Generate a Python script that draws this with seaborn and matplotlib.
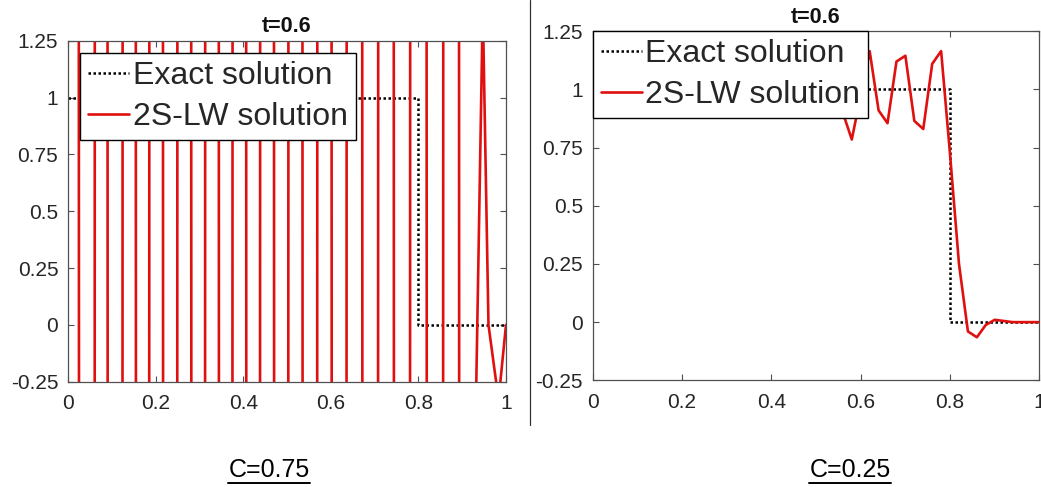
import numpy as np
import pandas as pd
import seaborn as sns
import matplotlib
matplotlib.use("Agg")
import matplotlib.pyplot as plt
from matplotlib.lines import Line2D

# ---------------- data ----------------
exact_x = [0.0, 0.8, 0.8, 1.0]
exact_u = [1.0, 1.0, 0.0, 0.0]

# C = 0.75 : unstable 2S-LW solution (huge alternating values, then the tail)
left_x = [0.0, 0.05, 0.072, 0.109, 0.140, 0.170, 0.201, 0.233, 0.266, 0.297,
          0.329, 0.360, 0.391, 0.423, 0.454, 0.487, 0.519, 0.552, 0.586, 0.618,
          0.654, 0.690, 0.726, 0.762, 0.800, 0.838, 0.875, 0.911, 0.930, 0.947,
          0.960, 0.983, 1.0]
left_u = [100.0, -100.0, 100.0, -100.0, 100.0, -100.0, 100.0, -100.0, 100.0, -100.0,
          100.0, -100.0, 100.0, -100.0, 100.0, -100.0, 100.0, -100.0, 100.0, -100.0,
          100.0, -100.0, 100.0, -100.0, 100.0, -100.0, 100.0, -100.0, -0.5, 1.4,
          0.0, -0.33, 0.0]

# C = 0.25 : 2S-LW solution
right_x = [0.00, 0.02, 0.04, 0.06, 0.08, 0.10, 0.12, 0.14, 0.16, 0.18,
           0.20, 0.22, 0.24, 0.26, 0.28, 0.30, 0.32, 0.34, 0.36, 0.38,
           0.40, 0.42, 0.44, 0.46, 0.48, 0.50, 0.52, 0.54, 0.56, 0.58,
           0.60, 0.62, 0.64, 0.66, 0.68, 0.70, 0.72, 0.74, 0.76, 0.78,
           0.80, 0.82, 0.84, 0.86, 0.88, 0.90, 0.92, 0.94, 0.96, 0.98, 1.00]
right_u = [1.0, 1.0, 1.0, 1.0, 1.0, 1.0, 1.0, 1.0, 1.0, 1.0,
           1.0, 1.0, 1.0, 1.0, 1.0, 1.0, 1.0, 1.0, 1.0, 1.0,
           1.0, 1.0, 1.0, 1.0, 1.0, 1.0, 1.02, 1.28, 0.90, 0.785,
           0.975, 1.165, 0.91, 0.855, 1.12, 1.145, 0.865, 0.83, 1.11, 1.165,
           0.72, 0.25, -0.04, -0.065, -0.012, 0.01, 0.005, 0.0, 0.0, 0.0, 0.0]

titles = ["t=0.6", "t=0.6"]
captions = ["C=0.75", "C=0.25"]
legend_labels = ["Exact solution", "2S-LW solution"]
xticks = [0, 0.2, 0.4, 0.6, 0.8, 1]
xticklabels = ["0", "0.2", "0.4", "0.6", "0.8", "1"]
yticks = [-0.25, 0, 0.25, 0.5, 0.75, 1, 1.25]
yticklabels = ["-0.25", "0", "0.25", "0.5", "0.75", "1", "1.25"]

# ---------------- style ----------------
sns.set_theme(style="white")
plt.rcParams["font.family"] = ["Liberation Sans", "DejaVu Sans"]

W, H = 1041, 487
fig = plt.figure(figsize=(W / 100, H / 100), dpi=100)

axL = fig.add_axes([68 / W, 1 - 381.7 / H, (506 - 68) / W, (381.7 - 40.7) / H])
axR = fig.add_axes([592.7 / W, 1 - 380.3 / H, (1039.4 - 592.7) / W, (380.3 - 31.3) / H])

edge = "#505050"
red = "#e01010"

panels = [
    (axL, left_x, left_u, (0.027, 0.963), titles[0]),
    (axR, right_x, right_u, (0.0, 1.0), titles[1]),
]

for ax, xs, us, anchor, ttl in panels:
    ex = pd.DataFrame({"x": exact_x, "u": exact_u})
    nm = pd.DataFrame({"x": xs, "u": us})
    sns.lineplot(data=ex, x="x", y="u", ax=ax, sort=False, estimator=None,
                 color="black", linestyle=(0, (1, 1)), linewidth=1.8,
                 label=legend_labels[0])
    sns.lineplot(data=nm, x="x", y="u", ax=ax, sort=False, estimator=None,
                 color=red, linewidth=1.9, label=legend_labels[1])
    ax.set_xlim(0, 1)
    ax.set_ylim(-0.25, 1.25)
    ax.set_xticks(xticks)
    ax.set_xticklabels(xticklabels)
    ax.set_yticks(yticks)
    ax.set_yticklabels(yticklabels)
    ax.set_xlabel("")
    ax.set_ylabel("")
    ax.tick_params(direction="in", length=4.5, width=0.8, color=edge,
                   labelsize=15, labelcolor="#262626", top=True, right=True,
                   left=True, bottom=True, pad=7)
    ax.tick_params(axis="x", pad=9)
    for s in ax.spines.values():
        s.set_color(edge)
        s.set_linewidth(0.9)
    ax.set_title(ttl, fontsize=15.5, fontweight="bold", pad=6, color="#111111")
    leg = ax.legend(loc="upper left", bbox_to_anchor=anchor, borderaxespad=0,
                    fontsize=23, frameon=True, fancybox=False, framealpha=1,
                    edgecolor="black", handlelength=1.3, handletextpad=0.1,
                    labelspacing=0.33, borderpad=0.25)
    leg.get_frame().set_linewidth(1.0)

# separator line between panels
fig.add_artist(Line2D([530 / W, 530 / W], [1.0, 1 - 425 / H], color="#333333",
                      linewidth=0.9, transform=fig.transFigure))

# captions with underline
cap_x = [269 / W, 850 / W]
texts = []
for cx, cap in zip(cap_x, captions):
    t = fig.text(cx, 1 - 470 / H, cap, ha="center", va="center", fontsize=18,
                 color="black")
    texts.append(t)

fig.canvas.draw()
r = fig.canvas.get_renderer()
for t in texts:
    bb = t.get_window_extent(renderer=r)
    y = bb.y0 - 1.0
    fig.add_artist(Line2D([bb.x0 / W, bb.x1 / W], [y / H, y / H], color="black",
                          linewidth=1.4, transform=fig.transFigure))

fig.savefig("out.png", dpi=100)
